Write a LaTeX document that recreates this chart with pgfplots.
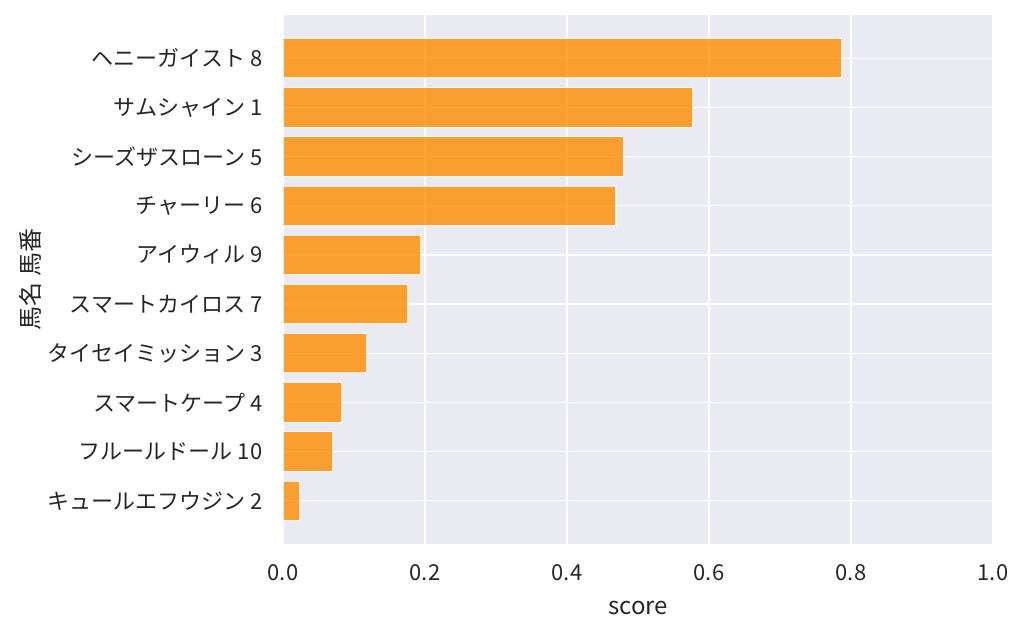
\documentclass[border=0pt]{standalone}
\usepackage{pgfplots}
\pgfplotsset{compat=1.18}
\usepackage{fontspec}
\setmainfont{Noto Sans CJK JP}
\definecolor{bgc}{HTML}{EAEAF2}
\definecolor{txt}{HTML}{262626}
\definecolor{barc}{HTML}{FF8C00}
\begin{document}
\begin{tikzpicture}[x=0.75pt,y=0.75pt]
\path[use as bounding box] (-283,-90) rectangle (741,544);
\begin{axis}[
  at={(0,0)}, anchor=south west,
  scale only axis, width=532.5pt, height=396.75pt,
  xmin=0, xmax=1, ymin=-0.88, ymax=9.88,
  y dir=reverse,
  axis background/.style={fill=bgc},
  axis line style={draw=none},
  major tick length=0pt,
  grid=major, grid style={white, line width=1.1pt},
  xtick={0,0.2,0.4,0.6,0.8,1.0},
  xticklabels={0.0,0.2,0.4,0.6,0.8,1.0},
  ytick={0,...,9},
  yticklabels={ヘニーガイスト 8,サムシャイン 1,シーズザスローン 5,チャーリー 6,アイウィル 9,スマートカイロス 7,タイセイミッション 3,スマートケープ 4,フルールドール 10,キュールエフウジン 2},
  tick label style={font=\fontsize{16.5}{18}\selectfont, text=txt},
  xticklabel style={yshift=-12pt},
  yticklabel style={xshift=-12pt},
  xlabel={score}, ylabel={馬名 馬番},
  label style={font=\fontsize{18}{20}\selectfont, text=txt},
  xlabel style={at={(axis description cs:0.5,-0.121)}, anchor=center},
  ylabel style={at={(axis description cs:-0.3563,0.5)}, anchor=center},
  xbar, bar width=29.5pt, bar shift=0pt,
  clip=false,
]
\addplot[fill=barc, fill opacity=0.8, draw=white, draw opacity=0.8, line width=0.8pt] coordinates {
(0.786,0) (0.577,1) (0.479,2) (0.469,3) (0.194,4) (0.176,5) (0.118,6) (0.083,7) (0.070,8) (0.023,9)
};
\end{axis}
\end{tikzpicture}
\end{document}
